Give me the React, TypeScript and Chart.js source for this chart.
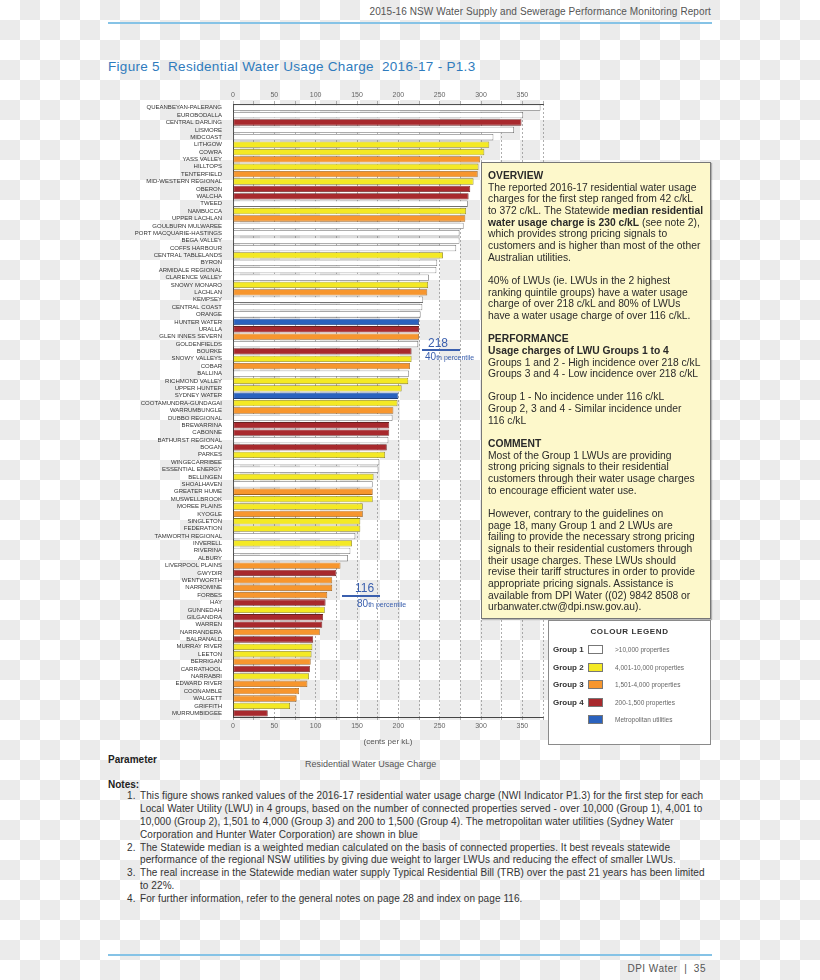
import React, { useEffect, useRef } from "react";
import { Chart, registerables } from "chart.js";

Chart.register(...registerables);

const utilities = [
  "QUEANBEYAN-PALERANG", "EUROBODALLA", "CENTRAL DARLING", "LISMORE", "MIDCOAST",
  "LITHGOW", "COWRA", "YASS VALLEY", "HILLTOPS", "TENTERFIELD",
  "MID-WESTERN REGIONAL", "OBERON", "WALCHA", "TWEED", "NAMBUCCA",
  "UPPER LACHLAN", "GOULBURN MULWAREE", "PORT MACQUARIE-HASTINGS", "BEGA VALLEY", "COFFS HARBOUR",
  "CENTRAL TABLELANDS", "BYRON", "ARMIDALE REGIONAL", "CLARENCE VALLEY", "SNOWY MONARO",
  "LACHLAN", "KEMPSEY", "CENTRAL COAST", "ORANGE", "HUNTER WATER",
  "URALLA", "GLEN INNES SEVERN", "GOLDENFIELDS", "BOURKE", "SNOWY VALLEYS",
  "COBAR", "BALLINA", "RICHMOND VALLEY", "UPPER HUNTER", "SYDNEY WATER",
  "COOTAMUNDRA-GUNDAGAI", "WARRUMBUNGLE", "DUBBO REGIONAL", "BREWARRINA", "CABONNE",
  "BATHURST REGIONAL", "BOGAN", "PARKES", "WINGECARRIBEE", "ESSENTIAL ENERGY",
  "BELLINGEN", "SHOALHAVEN", "GREATER HUME", "MUSWELLBROOK", "MOREE PLAINS",
  "KYOGLE", "SINGLETON", "FEDERATION", "TAMWORTH REGIONAL", "INVERELL",
  "RIVERINA", "ALBURY", "LIVERPOOL PLAINS", "GWYDIR", "WENTWORTH",
  "NARROMINE", "FORBES", "HAY", "GUNNEDAH", "GILGANDRA",
  "WARREN", "NARRANDERA", "BALRANALD", "MURRAY RIVER", "LEETON",
  "BERRIGAN", "CARRATHOOL", "NARRABRI", "EDWARD RIVER", "COONAMBLE",
  "WALGETT", "GRIFFITH", "MURRUMBIDGEE",
];

const charges = [
  372, 351, 349, 340, 315,
  310, 304, 299, 297, 296,
  291, 287, 285, 284, 282,
  281, 279, 274, 274, 270,
  254, 247, 246, 237, 236,
  235, 230, 229, 227, 225,
  225, 225, 224, 216, 216,
  214, 213, 212, 204, 200,
  199, 194, 193, 189, 189,
  188, 186, 184, 177, 176,
  170, 169, 169, 169, 157,
  157, 154, 154, 148, 144,
  142, 139, 130, 125, 120,
  120, 114, 112, 111, 109,
  108, 105, 97, 96, 95,
  94, 93, 92, 90, 80,
  77, 69, 42,
];

const groups = [
  "G1", "G1", "G4", "G1", "G1",
  "G2", "G2", "G3", "G2", "G3",
  "G2", "G4", "G4", "G1", "G2",
  "G3", "G1", "G1", "G1", "G1",
  "G2", "G1", "G1", "G1", "G2",
  "G3", "G1", "G1", "G1", "M",
  "G4", "G3", "G1", "G4", "G2",
  "G3", "G1", "G2", "G2", "M",
  "G2", "G3", "G1", "G4", "G4",
  "G1", "G4", "G2", "G1", "G1",
  "G2", "G1", "G3", "G2", "G2",
  "G3", "G2", "G2", "G1", "G2",
  "G1", "G1", "G3", "G4", "G3",
  "G3", "G3", "G4", "G2", "G4",
  "G4", "G3", "G4", "G2", "G2",
  "G3", "G4", "G2", "G3", "G3",
  "G3", "G2", "G4",
];

const groupColors: Record<string, string> = {
  G1: "#ffffff",
  G2: "#f4e924",
  G3: "#f7962e",
  G4: "#a8292d",
  M: "#2a62be",
};

const groupBorders: Record<string, string> = {
  G1: "#707070",
  G2: "#8a8020",
  G3: "#9a6020",
  G4: "#6a2020",
  M: "#20407a",
};

const legendRows = [
  { label: "Group 1", key: "G1", desc: ">10,000 properties" },
  { label: "Group 2", key: "G2", desc: "4,001-10,000 properties" },
  { label: "Group 3", key: "G3", desc: "1,501-4,000 properties" },
  { label: "Group 4", key: "G4", desc: "200-1,500 properties" },
  { label: "", key: "M", desc: "Metropolitan utilities" },
];

const overviewLines: Array<string | [string, string, string]> = [
  "##OVERVIEW",
  "The reported 2016-17 residential water usage",
  "charges for the first step ranged from 42 c/kL",
  ["to 372 c/kL. The Statewide ", "median residential", ""],
  ["", "water usage charge is 230 c/kL", " (see note 2),"],
  "which provides strong pricing signals to",
  "customers and is higher than most of the other",
  "Australian utilities.",
  "",
  "40% of LWUs (ie. LWUs in the 2 highest",
  "ranking quintile groups) have a water usage",
  "charge of over 218 c/kL and 80% of LWUs",
  "have a water usage charge of over 116 c/kL.",
  "",
  "##PERFORMANCE",
  "##Usage charges of LWU Groups 1 to 4",
  "Groups 1 and 2 - High incidence over 218 c/kL",
  "Groups 3 and 4 - Low incidence over 218 c/kL",
  "",
  "Group 1 - No incidence under 116 c/kL",
  "Group 2, 3 and 4 - Similar incidence under",
  "116 c/kL",
  "",
  "##COMMENT",
  "Most of the Group 1 LWUs are providing",
  "strong pricing signals to their residential",
  "customers through their water usage charges",
  "to encourage efficient water use.",
  "",
  "However, contrary to the guidelines on",
  "page 18, many Group 1 and 2 LWUs are",
  "failing to provide the necessary strong pricing",
  "signals to their residential customers through",
  "their usage charges. These LWUs should",
  "revise their tariff structures in order to provide",
  "appropriate pricing signals. Assistance is",
  "available from DPI Water ((02) 9842 8508 or",
  "urbanwater.ctw@dpi.nsw.gov.au).",
];

const notes = [
  {
    n: "1.",
    lines: [
      "This figure shows ranked values of the 2016-17 residential water usage charge (NWI Indicator P1.3) for the first step for each",
      "Local Water Utility (LWU) in 4 groups, based on the number of connected properties served - over 10,000 (Group 1), 4,001 to",
      "10,000 (Group 2), 1,501 to 4,000 (Group 3) and 200 to 1,500 (Group 4). The metropolitan water utilities (Sydney Water",
      "Corporation and Hunter Water Corporation) are shown in blue",
    ],
  },
  {
    n: "2.",
    lines: [
      "The Statewide median is a weighted median calculated on the basis of connected properties. It best reveals statewide",
      "performance of the regional NSW utilities by giving due weight to larger LWUs and reducing the effect of smaller LWUs.",
    ],
  },
  {
    n: "3.",
    lines: [
      "The real increase in the Statewide median water supply Typical Residential Bill (TRB) over the past 21 years has been limited",
      "to 22%.",
    ],
  },
  {
    n: "4.",
    lines: ["For further information, refer to the general notes on page 28 and index on page 116."],
  },
];

const FONT = '"Liberation Sans", Arial, "DejaVu Sans", sans-serif';

function BarChart() {
  const ref = useRef<HTMLCanvasElement | null>(null);
  useEffect(() => {
    if (!ref.current) return;
    const tickFont = { family: FONT, size: 7 };
    const chart = new Chart(ref.current, {
      type: "bar",
      data: {
        labels: utilities,
        datasets: [
          {
            data: charges,
            backgroundColor: groups.map((g) => groupColors[g]),
            borderColor: groups.map((g) => groupBorders[g]),
            borderWidth: 0.8,
            borderSkipped: false,
            barPercentage: 0.86,
            categoryPercentage: 1,
            xAxisID: "x",
            yAxisID: "y",
          },
        ],
      },
      options: {
        indexAxis: "y",
        animation: false,
        responsive: false,
        maintainAspectRatio: false,
        layout: { padding: { left: 0, right: 7, top: 0, bottom: 0 } },
        plugins: { legend: { display: false }, tooltip: { enabled: false } },
        scales: {
          x: {
            type: "linear",
            position: "bottom",
            min: 0,
            max: 375,
            ticks: {
              stepSize: 25,
              color: "#666",
              font: tickFont,
              padding: 2,
              maxRotation: 0,
              callback: (v: any) => (Number(v) % 50 === 0 ? String(v) : ""),
            },
            grid: { color: "#8c8c8c", lineWidth: 0.7, drawTicks: true, tickLength: 3 },
            border: { display: true, color: "#444", width: 1, dash: [2, 2] },
            title: {
              display: true,
              text: "(cents per kL)",
              color: "#555",
              font: { family: FONT, size: 8 },
              padding: { top: 2, bottom: 3 },
            },
            afterFit: (s: any) => {
              s.height = 33;
            },
          },
          x2: {
            type: "linear",
            position: "top",
            min: 0,
            max: 375,
            ticks: {
              stepSize: 25,
              color: "#666",
              font: tickFont,
              padding: 2,
              maxRotation: 0,
              callback: (v: any) => (Number(v) % 50 === 0 ? String(v) : ""),
            },
            grid: { drawOnChartArea: false, color: "#8c8c8c", tickLength: 3, lineWidth: 0.7 },
            border: { display: true, color: "#444", width: 1 },
            afterFit: (s: any) => {
              s.height = 24;
            },
          },
          y: {
            type: "category",
            ticks: {
              autoSkip: false,
              color: "#333",
              font: { family: FONT, size: 6 },
              padding: 3,
            },
            grid: { display: false },
            border: { display: true, color: "#444", width: 1 },
            afterFit: (s: any) => {
              s.width = 133;
            },
          },
        },
      },
    } as any);
    return () => chart.destroy();
  }, []);
  return (
    <canvas
      ref={ref}
      width={450}
      height={670}
      style={{ position: "absolute", left: 100, top: 80, width: 450, height: 670 }}
    />
  );
}

export default function App() {
  const abs = (s: React.CSSProperties): React.CSSProperties => ({ position: "absolute", ...s });
  return (
    <div
      style={{
        position: "absolute",
        left: 0,
        top: 0,
        width: 820,
        height: 980,
        overflow: "hidden",
        fontFamily: FONT,
        backgroundColor: "#ffffff",
        backgroundImage:
          "conic-gradient(#ebebeb 25%, transparent 0 50%, #ebebeb 0 75%, transparent 0)",
        backgroundSize: "40px 40px",
      }}
    >
      {/* header */}
      <div
        style={abs({
          right: 109,
          top: 6,
          fontSize: 10,
          color: "#555",
          letterSpacing: 0.1,
          whiteSpace: "pre",
        })}
      >
        2015-16 NSW Water Supply and Sewerage Performance Monitoring Report
      </div>
      <div style={abs({ left: 108, top: 22, width: 604, height: 2, background: "#86c3e6" })} />

      {/* title */}
      <div
        style={abs({
          left: 108,
          top: 59,
          fontSize: 13.5,
          color: "#2f7bbd",
          letterSpacing: 0.3,
          whiteSpace: "pre",
        })}
      >
        {"Figure 5  Residential Water Usage Charge  2016-17 - P1.3"}
      </div>

      <BarChart />

      {/* percentile annotations */}
      <div style={abs({ left: 428, top: 335, fontSize: 12, color: "#3a5fae", lineHeight: "16px" })}>218</div>
      <div style={abs({ left: 422, top: 349, width: 38, height: 1.5, background: "#3a5fae" })} />
      <div
        style={abs({
          left: 425,
          top: 351,
          fontSize: 10,
          color: "#3a5fae",
          lineHeight: "12px",
          whiteSpace: "pre",
        })}
      >
        40<span style={{ fontSize: 7 }}>th percentile</span>
      </div>

      <div style={abs({ left: 355, top: 580, fontSize: 12, color: "#3a5fae", lineHeight: "16px" })}>116</div>
      <div style={abs({ left: 342, top: 595, width: 38, height: 1.5, background: "#3a5fae" })} />
      <div
        style={abs({
          left: 357,
          top: 598,
          fontSize: 10,
          color: "#3a5fae",
          lineHeight: "12px",
          whiteSpace: "pre",
        })}
      >
        80<span style={{ fontSize: 7 }}>th percentile</span>
      </div>

      {/* overview box */}
      <div
        style={abs({
          left: 481,
          top: 162,
          width: 222,
          height: 448,
          background: "#fdf8cb",
          border: "1px solid #777",
          boxShadow: "1px 1px 1px rgba(0,0,0,0.25)",
          paddingLeft: 6,
          paddingTop: 7,
          boxSizing: "content-box",
          fontSize: 10.3,
          lineHeight: "11.67px",
          color: "#2a2a2a",
          whiteSpace: "pre",
        })}
      >
        {overviewLines.map((l, i) => {
          if (Array.isArray(l)) {
            return (
              <div key={i} style={{ height: 11.67 }}>
                {l[0]}
                <b>{l[1]}</b>
                {l[2]}
              </div>
            );
          }
          if (l.startsWith("##")) {
            return (
              <div key={i} style={{ height: 11.67, fontWeight: "bold" }}>
                {l.slice(2)}
              </div>
            );
          }
          return (
            <div key={i} style={{ height: 11.67 }}>
              {l}
            </div>
          );
        })}
      </div>

      {/* legend box */}
      <div
        style={abs({
          left: 548,
          top: 620,
          width: 161,
          height: 123,
          background: "#ffffff",
          border: "1px solid #8a8a8a",
        })}
      >
        <div
          style={abs({
            left: 0,
            top: 6,
            width: 161,
            textAlign: "center",
            fontSize: 8,
            fontWeight: "bold",
            letterSpacing: 0.6,
            color: "#333",
          })}
        >
          COLOUR LEGEND
        </div>
        {legendRows.map((r, i) => (
          <React.Fragment key={r.key}>
            <div
              style={abs({
                left: 4,
                top: 24 + i * 17.5,
                fontSize: 8,
                fontWeight: "bold",
                color: "#333",
                lineHeight: "10px",
              })}
            >
              {r.label}
            </div>
            <div
              style={abs({
                left: 39,
                top: 24 + i * 17.5,
                width: 15,
                height: 9,
                background: groupColors[r.key],
                border: "1px solid #777",
                boxSizing: "border-box",
              })}
            />
            <div
              style={abs({
                left: 66,
                top: 24 + i * 17.5,
                fontSize: 6.5,
                color: "#666",
                lineHeight: "10px",
                whiteSpace: "pre",
              })}
            >
              {r.desc}
            </div>
          </React.Fragment>
        ))}
      </div>

      {/* parameter & notes */}
      <div style={abs({ left: 108, top: 754, fontSize: 10, fontWeight: "bold", color: "#222" })}>Parameter</div>
      <div style={abs({ left: 305, top: 759, fontSize: 9, color: "#555", whiteSpace: "pre" })}>
        Residential Water Usage Charge
      </div>
      <div style={abs({ left: 108, top: 779, fontSize: 10, fontWeight: "bold", color: "#222" })}>Notes:</div>
      <div
        style={abs({
          left: 126,
          top: 790,
          fontSize: 10,
          letterSpacing: 0.08,
          lineHeight: "12.9px",
          color: "#333",
        })}
      >
        {notes.map((nt) =>
          nt.lines.map((ln, j) => (
            <div key={nt.n + j} style={{ position: "relative", paddingLeft: 14, whiteSpace: "pre", height: 12.9 }}>
              {j === 0 ? <span style={{ position: "absolute", left: 1 }}>{nt.n}</span> : null}
              {ln}
            </div>
          ))
        )}
      </div>

      {/* footer */}
      <div style={abs({ left: 108, top: 954, width: 604, height: 2, background: "#86c3e6" })} />
      <div style={abs({ right: 114, top: 963, fontSize: 10, color: "#555", letterSpacing: 0.5, whiteSpace: "pre" })}>
        {"DPI Water  |  35"}
      </div>
    </div>
  );
}
